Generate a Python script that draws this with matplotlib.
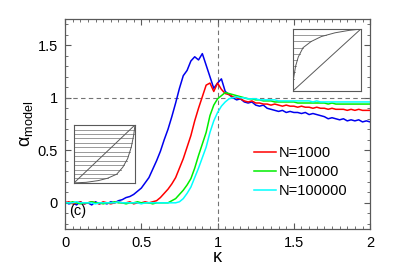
#!/usr/bin/env python3

import matplotlib

matplotlib.use("Agg")
import matplotlib.pyplot as plt
import numpy as np
from matplotlib.ticker import MultipleLocator

plt.rcParams["font.family"] = ["Liberation Sans", "DejaVu Sans"]
plt.rcParams["mathtext.fontset"] = "custom"
plt.rcParams["mathtext.rm"] = "Liberation Sans"
plt.rcParams["mathtext.it"] = "Liberation Sans:italic"

# kappa grid, step 0.025 from 0 to 2
kappa = np.linspace(0, 2, 81)

alpha_blue = [
    0.01, -0.01, 0.00, -0.02, 0.01, -0.01, 0.00, -0.02, 0.01, -0.01,
    0.00, -0.01, 0.01, 0.00, 0.02, 0.03, 0.05, 0.06, 0.08, 0.11,
    0.14, 0.19, 0.24, 0.32, 0.40, 0.49, 0.60, 0.70, 0.82, 0.95,
    1.09, 1.21, 1.26, 1.35, 1.39, 1.36, 1.42, 1.31, 1.20, 1.09,
    1.14, 1.18, 1.06, 1.03, 1.00, 0.98, 0.99, 0.96, 0.95, 0.96,
    0.93, 0.92, 0.93, 0.90, 0.89, 0.88, 0.87, 0.88, 0.86, 0.87,
    0.86, 0.86, 0.85, 0.86, 0.84, 0.85, 0.84, 0.83, 0.82, 0.80,
    0.81, 0.80, 0.79, 0.80, 0.78, 0.79, 0.78, 0.79, 0.77, 0.78,
    0.77,
]
alpha_1000 = [
    0.00, 0.01, -0.01, 0.00, 0.01, -0.01, 0.00, 0.01, 0.00, -0.01,
    0.01, 0.00, -0.01, 0.00, 0.01, 0.00, 0.00, 0.01, -0.01, 0.00,
    0.00, 0.01, 0.00, 0.01, 0.02, 0.05, 0.09, 0.13, 0.18, 0.24,
    0.33, 0.42, 0.53, 0.64, 0.78, 0.90, 1.01, 1.12, 1.14, 1.06,
    1.14, 1.08, 1.04, 1.03, 1.01, 1.00, 0.99, 0.97, 0.96, 0.97,
    0.95, 0.95, 0.94, 0.94, 0.93, 0.94, 0.93, 0.92, 0.93, 0.92,
    0.92, 0.91, 0.92, 0.91, 0.91, 0.90, 0.91, 0.90, 0.90, 0.89,
    0.90, 0.89, 0.89, 0.89, 0.88, 0.89, 0.88, 0.89, 0.88, 0.88,
    0.88,
]
alpha_10000 = [
    0.00, 0.00, 0.01, 0.00, -0.01, 0.00, 0.00, 0.01, 0.00, 0.00,
    -0.01, 0.00, 0.00, 0.01, 0.00, 0.00, -0.01, 0.00, 0.00, 0.01,
    0.00, 0.00, 0.00, -0.01, 0.00, 0.00, 0.00, 0.00, 0.02, 0.04,
    0.08, 0.12, 0.17, 0.23, 0.33, 0.45, 0.56, 0.67, 0.83, 0.93,
    0.99, 1.02, 1.05, 1.04, 1.03, 1.02, 1.01, 1.00, 0.99, 0.99,
    0.98, 0.98, 0.97, 0.97, 0.97, 0.96, 0.96, 0.96, 0.96, 0.96,
    0.96, 0.95, 0.95, 0.95, 0.95, 0.95, 0.95, 0.95, 0.95, 0.94,
    0.95, 0.94, 0.94, 0.94, 0.94, 0.94, 0.94, 0.94, 0.94, 0.94,
    0.94,
]
alpha_100000 = [
    0.00, 0.00, 0.00, 0.01, 0.00, 0.00, 0.00, 0.00, -0.01, 0.00,
    0.00, 0.00, 0.00, 0.00, 0.01, 0.00, 0.00, 0.00, 0.00, 0.00,
    -0.01, 0.00, 0.00, 0.00, 0.00, 0.00, 0.00, 0.00, 0.00, 0.00,
    0.01, 0.04, 0.09, 0.15, 0.24, 0.33, 0.43, 0.53, 0.67, 0.78,
    0.86, 0.92, 0.96, 0.99, 1.00, 1.01, 1.00, 1.00, 0.99, 0.99,
    0.99, 0.98, 0.98, 0.98, 0.98, 0.98, 0.97, 0.97, 0.97, 0.97,
    0.97, 0.97, 0.97, 0.97, 0.97, 0.96, 0.97, 0.96, 0.96, 0.96,
    0.96, 0.96, 0.96, 0.96, 0.96, 0.96, 0.96, 0.96, 0.96, 0.96,
    0.96,
]
labels = ["N=1000", "N=10000", "N=100000"]

# schematic curve of the insets (left inset: convex, right inset: mirrored)
curve_x = [0.0, 0.2, 0.4, 0.55, 0.7, 0.8, 0.88, 0.94, 0.98, 1.0]
curve_y = [0.0, 0.01, 0.04, 0.08, 0.15, 0.27, 0.42, 0.62, 0.83, 1.0]
left_levels = [0.08, 0.155, 0.23, 0.31, 0.385, 0.46, 0.54, 0.615, 0.69, 0.77, 0.845, 0.92]
right_levels = [0.1, 0.2, 0.3, 0.4, 0.5, 0.6, 0.7, 0.8, 0.9]


def draw_inset(fig, rect, cx, cy, levels):
    ins = fig.add_axes(rect)
    for lev in levels:
        xend = np.interp(lev, cy, cx)
        ins.plot([0, xend], [lev, lev], color="0.6", lw=0.7)
    ins.plot([0, 1], [0, 1], color="0.35", lw=0.7)
    ins.plot(cx, cy, color="0.35", lw=0.7)
    ins.set_xlim(0, 1)
    ins.set_ylim(0, 1)
    ins.set_xticks([])
    ins.set_yticks([])
    for sp in ins.spines.values():
        sp.set_color("0.35")
        sp.set_linewidth(0.8)


def main() -> None:
    fig = plt.figure(figsize=(4.09, 2.67), dpi=100)
    ax = fig.add_axes([0.159, 0.142, 0.746, 0.787])

    ax.axvline(1.0, color="0.45", ls=(0, (4, 3)), lw=0.8)
    ax.axhline(1.0, color="0.45", ls=(0, (4, 3)), lw=0.8)

    ax.plot(kappa, alpha_blue, color="#0000ee", lw=1.1)
    ax.plot(kappa, alpha_1000, color="#ff0000", lw=1.1, label=labels[0])
    ax.plot(kappa, alpha_10000, color="#00ee00", lw=1.1, label=labels[1])
    ax.plot(kappa, alpha_100000, color="#00ffff", lw=1.1, label=labels[2])

    ax.set_xlim(0, 2)
    ax.set_ylim(-0.25, 1.75)
    ax.set_xticks([0, 0.5, 1, 1.5, 2])
    ax.set_xticklabels(["0", "0.5", "1", "1.5", "2"])
    ax.set_yticks([0, 0.5, 1, 1.5])
    ax.set_yticklabels(["0", "0.5", "1", "1.5"])
    ax.xaxis.set_minor_locator(MultipleLocator(0.05))
    ax.yaxis.set_minor_locator(MultipleLocator(0.1))
    ax.tick_params(which="both", direction="in", top=True, right=True,
                   color="0.35", labelsize=10.5, pad=5)
    ax.tick_params(which="major", length=4, width=0.8)
    ax.tick_params(which="minor", length=2, width=0.6)
    for sp in ax.spines.values():
        sp.set_color("0.35")
        sp.set_linewidth(0.9)

    ax.set_xlabel(r"$\mathrm{\kappa}$", fontsize=13, labelpad=-1)
    ax.set_ylabel(r"$\mathrm{\alpha}_{\rm model}$", fontsize=13, labelpad=2)

    ax.text(0.015, 0.085, "(c)", transform=ax.transAxes, fontsize=10.5,
            ha="left", va="center")

    ax.legend(loc="upper left", bbox_to_anchor=(0.596, 0.43), frameon=False,
              fontsize=10.5, handlelength=1.5, handletextpad=0.2,
              labelspacing=0.35, borderpad=0)

    draw_inset(fig, [0.181, 0.315, 0.149, 0.217], curve_x, curve_y, left_levels)
    draw_inset(fig, [0.716, 0.659, 0.166, 0.232], curve_y, curve_x, right_levels)

    fig.savefig("out.png", dpi=100)


if __name__ == "__main__":
    main()
